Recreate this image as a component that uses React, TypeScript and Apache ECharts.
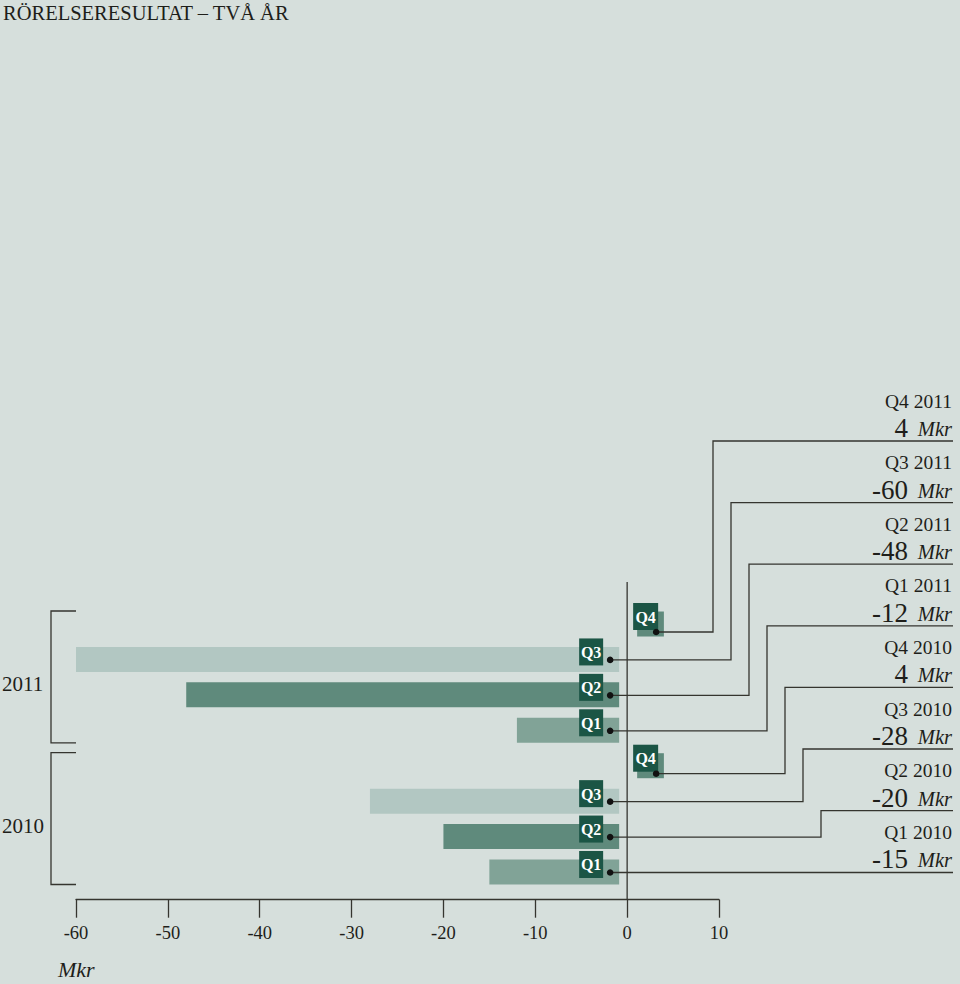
import React, { useEffect, useRef } from "react";
import * as echarts from "echarts";

const TITLE = "RÖRELSERESULTAT – TVÅ ÅR";
const UNIT = "Mkr";
const categories = ["Q4 2011", "Q3 2011", "Q2 2011", "Q1 2011", "Q4 2010", "Q3 2010", "Q2 2010", "Q1 2010"];
const quarters = ["Q4", "Q3", "Q2", "Q1", "Q4", "Q3", "Q2", "Q1"];
const years = ["2011", "2011", "2011", "2011", "2010", "2010", "2010", "2010"];
const values = [4, -60, -48, -12, 4, -28, -20, -15];
const X_MIN = -60;
const X_MAX = 10;
const X_STEP = 10;

const FONT = "Liberation Serif";
const BG = "#d6dfdc";
const INK = "#1e1e1a";
const LINE = "#35352f";
const BOX = "#1b5545";
const barColors: Record<string, string> = {
  Q4: "#5f8a7c",
  Q3: "#b2c7c2",
  Q2: "#5f8a7c",
  Q1: "#81a397",
};

// layout of the right-hand label column (pixels)
const LABEL_RIGHT = 953;
const LABEL_BASE_Y = 441;
const LABEL_STEP = 61.6;
const LEADER_X0 = 713;
const LEADER_STEP = 18;

export default function App() {
  const ref = useRef<HTMLDivElement>(null);

  useEffect(() => {
    if (!ref.current) return;
    const chart = echarts.init(ref.current, undefined, { renderer: "svg" });

    const renderItem = (params: any, api: any) => {
      const i = params.dataIndex;
      const v = api.value(0);
      const q = quarters[i];
      const [zx, yc] = api.coord([0, i]);
      const [vx] = api.coord([v, i]);
      const children: any[] = [];

      if (i === 0) {
        const yEnd = api.coord([0, values.length - 1])[1] + 28;
        children.push({
          type: "line",
          shape: { x1: zx, y1: yc - 42, x2: zx, y2: yEnd },
          style: { stroke: LINE, lineWidth: 1.3 },
        });
      }

      // bracket + year label for each group
      if (i === 0 || years[i] !== years[i - 1]) {
        let last = i;
        while (last + 1 < years.length && years[last + 1] === years[i]) last++;
        const top = yc - 13;
        const bottom = api.coord([0, last])[1] + 12.5;
        const xl = api.coord([X_MIN, i])[0];
        children.push({
          type: "polyline",
          shape: { points: [[xl, top], [xl - 25, top], [xl - 25, bottom], [xl, bottom]] },
          style: { stroke: LINE, lineWidth: 1.3, fill: "none" },
        });
        children.push({
          type: "text",
          x: 2,
          y: (top + bottom) / 2 + 7,
          style: {
            text: years[i],
            fill: INK,
            fontSize: 21,
            fontFamily: FONT,
            align: "left",
            verticalAlign: "middle",
          },
        });
      }

      const neg = v < 0;
      const bx0 = neg ? vx : zx + 10;
      const bx1 = neg ? zx - 8 : vx;
      children.push({
        type: "rect",
        shape: { x: bx0, y: yc - 12.5, width: bx1 - bx0, height: 25 },
        style: { fill: barColors[q] },
      });

      const boxX = neg ? zx - 48 : zx + 6;
      const boxW = neg ? 24 : 25;
      children.push({
        type: "rect",
        shape: { x: boxX, y: yc - 21, width: boxW, height: 27 },
        style: { fill: BOX },
      });
      children.push({
        type: "text",
        x: boxX + boxW / 2,
        y: yc - 7,
        style: {
          text: q,
          fill: "#ffffff",
          fontSize: 16,
          fontWeight: "bold",
          fontFamily: FONT,
          align: "center",
          verticalAlign: "middle",
        },
      });

      const dx = neg ? zx - 17 : zx + 29;
      const dy = neg ? yc + 0.5 : yc + 8;
      let uy = LABEL_BASE_Y + i * LABEL_STEP;
      if (Math.abs(uy - dy) < 3) uy = dy;
      const lx = LEADER_X0 + i * LEADER_STEP;
      const pts = uy === dy
        ? [[dx, dy], [LABEL_RIGHT, uy]]
        : [[dx, dy], [lx, dy], [lx, uy], [LABEL_RIGHT, uy]];
      children.push({
        type: "polyline",
        shape: { points: pts },
        style: { stroke: LINE, lineWidth: 1.3, fill: "none" },
      });
      children.push({
        type: "circle",
        shape: { cx: dx, cy: dy, r: 3.3 },
        style: { fill: "#111" },
      });

      children.push({
        type: "text",
        x: LABEL_RIGHT - 1,
        y: uy - 40,
        style: {
          text: categories[i],
          fill: INK,
          fontSize: 19.5,
          fontFamily: FONT,
          align: "right",
          verticalAlign: "middle",
        },
      });
      children.push({
        type: "text",
        x: LABEL_RIGHT - 45,
        y: uy - 13,
        style: {
          text: String(v),
          fill: INK,
          fontSize: 27,
          fontFamily: FONT,
          align: "right",
          verticalAlign: "middle",
        },
      });
      children.push({
        type: "text",
        x: LABEL_RIGHT - 1,
        y: uy - 12,
        style: {
          text: UNIT,
          fill: INK,
          fontSize: 20.5,
          fontStyle: "italic",
          fontFamily: FONT,
          align: "right",
          verticalAlign: "middle",
        },
      });

      return { type: "group", children };
    };

    chart.setOption({
      animation: false,
      backgroundColor: BG,
      grid: {
        left: 76,
        right: 241,
        top: 606.3,
        bottom: 94.3,
        containLabel: false,
        outerBoundsMode: "none",
      },
      xAxis: {
        type: "value",
        min: X_MIN,
        max: X_MAX,
        interval: X_STEP,
        position: "bottom",
        offset: 10,
        axisLine: { show: true, onZero: false, lineStyle: { color: LINE, width: 1.3 } },
        axisTick: { show: true, length: 18, inside: false, lineStyle: { color: LINE, width: 1.3 } },
        splitLine: { show: false },
        axisLabel: { color: INK, fontSize: 18.5, fontFamily: FONT, margin: 24 },
      },
      yAxis: {
        type: "category",
        data: categories,
        inverse: true,
        show: false,
      },
      graphic: [
        {
          type: "text",
          left: 3,
          top: 2,
          style: { text: TITLE, fill: INK, fontSize: 20.5, fontFamily: FONT },
        },
        {
          type: "text",
          left: 58,
          top: 958,
          style: { text: UNIT, fill: INK, fontSize: 22, fontStyle: "italic", fontFamily: FONT },
        },
      ],
      series: [
        {
          type: "custom",
          renderItem,
          clip: false,
          encode: { x: 0, y: 1 },
          data: values.map((v, i) => [v, i]),
        },
      ],
    });

    return () => chart.dispose();
  }, []);

  return (
    <div
      ref={ref}
      style={{ position: "fixed", left: 0, top: 0, width: 960, height: 984 }}
    />
  );
}
